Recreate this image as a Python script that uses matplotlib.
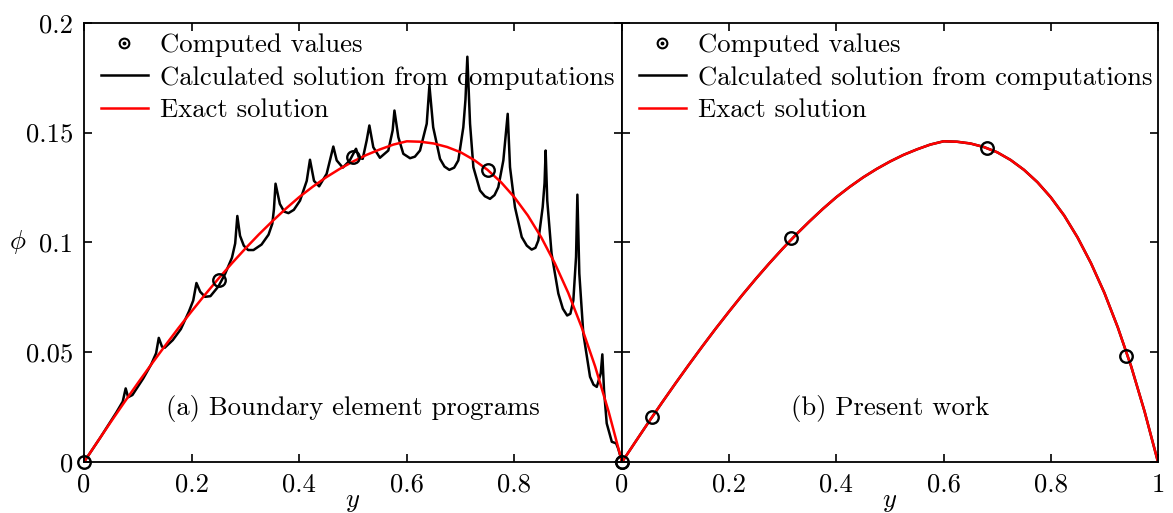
import matplotlib
matplotlib.use("Agg")
import matplotlib.pyplot as plt
from matplotlib.lines import Line2D
from matplotlib.legend_handler import HandlerTuple

plt.rcParams['font.family'] = ['cmr10', 'DejaVu Serif']
plt.rcParams['mathtext.fontset'] = 'cm'
plt.rcParams['axes.formatter.use_mathtext'] = True

FS = 19.2

# exact solution
y_exact = [0, 0.025, 0.05, 0.075, 0.1, 0.125, 0.15, 0.175, 0.2, 0.225, 0.25, 0.275,
           0.3, 0.325, 0.35, 0.375, 0.4, 0.425, 0.45, 0.475, 0.5, 0.525, 0.55, 0.575,
           0.6, 0.625, 0.65, 0.675, 0.7, 0.725, 0.75, 0.775, 0.8, 0.825, 0.85, 0.875,
           0.9, 0.925, 0.95, 0.975, 1]
phi_exact = [0, 0.0092, 0.0183, 0.0272, 0.0359, 0.0444, 0.0527, 0.0608, 0.0686, 0.0762,
             0.0835, 0.0905, 0.0972, 0.1036, 0.1096, 0.1153, 0.1206, 0.1253, 0.1296,
             0.1334, 0.1368, 0.1398, 0.1423, 0.1445, 0.1460, 0.1458, 0.1450, 0.1434,
             0.1410, 0.1375, 0.1330, 0.1274, 0.1205, 0.1122, 0.1022, 0.0905, 0.0770,
             0.0613, 0.0435, 0.0230, 0]

# boundary element programs (spiky curve)
y_bem = [0, 0.03, 0.06, 0.072, 0.0775, 0.082, 0.09, 0.11, 0.125, 0.134, 0.139, 0.145,
         0.15, 0.165, 0.18, 0.195, 0.203, 0.209, 0.216, 0.225, 0.235, 0.25, 0.262,
         0.275, 0.281, 0.285, 0.29, 0.297, 0.305, 0.315, 0.33, 0.343, 0.35, 0.353,
         0.356, 0.364, 0.372, 0.38, 0.39, 0.4015, 0.414, 0.42, 0.4275, 0.437, 0.451,
         0.4634, 0.4697, 0.481, 0.494, 0.5037, 0.5056, 0.511, 0.518, 0.5254, 0.5304,
         0.5377, 0.55, 0.5656, 0.5737, 0.577, 0.5842, 0.5935, 0.606, 0.615, 0.6245,
         0.637, 0.642, 0.649, 0.6617, 0.67, 0.679, 0.688, 0.6957, 0.705, 0.709,
         0.7125, 0.7175, 0.7237, 0.736, 0.745, 0.7546, 0.763, 0.77, 0.7794, 0.7875,
         0.7918, 0.801, 0.8136, 0.823, 0.832, 0.839, 0.8445, 0.8525, 0.856, 0.858,
         0.861, 0.869, 0.8816, 0.89, 0.898, 0.904, 0.9095, 0.9145, 0.917, 0.9206,
         0.928, 0.9405, 0.947, 0.953, 0.9604, 0.9634, 0.9665, 0.9715, 0.981, 0.989,
         0.993, 1]
phi_bem = [0, 0.011, 0.0225, 0.0275, 0.0335, 0.0295, 0.0305, 0.038, 0.0445, 0.0495,
           0.0565, 0.0525, 0.052, 0.0555, 0.0605, 0.0685, 0.0735, 0.0815, 0.0775,
           0.0752, 0.0755, 0.08, 0.0855, 0.093, 0.0995, 0.112, 0.103, 0.0985, 0.0965,
           0.0965, 0.099, 0.1035, 0.1085, 0.115, 0.1267, 0.1175, 0.1140, 0.1133,
           0.1148, 0.119, 0.128, 0.1376, 0.128, 0.1255, 0.1312, 0.1436, 0.1373, 0.134,
           0.1373, 0.1418, 0.1426, 0.1385, 0.138, 0.1464, 0.1532, 0.1433, 0.1385,
           0.1418, 0.151, 0.16, 0.1479, 0.1403, 0.1383, 0.1390, 0.1418, 0.154, 0.1714,
           0.1524, 0.138, 0.1345, 0.133, 0.1340, 0.1373, 0.1524, 0.1650, 0.1845, 0.154,
           0.1342, 0.1236, 0.1210, 0.1198, 0.1215, 0.1251, 0.1373, 0.1585, 0.1342,
           0.116, 0.1024, 0.0985, 0.0967, 0.0975, 0.1009, 0.116, 0.127, 0.1418, 0.119,
           0.0949, 0.0767, 0.0698, 0.0667, 0.0675, 0.0736, 0.0933, 0.1217, 0.0858,
           0.0585, 0.0388, 0.0352, 0.0342, 0.0403, 0.049, 0.0327, 0.0176, 0.0092,
           0.0085, 0.006, 0]

# computed nodal values
y_pts_a = [0, 0.25, 0.5, 0.75, 1]
phi_pts_a = [0, 0.0827, 0.139, 0.133, 0]
y_pts_b = [0, 0.0564, 0.3154, 0.6815, 0.941]
phi_pts_b = [0, 0.0203, 0.1021, 0.1429, 0.0482]

panels = [
    ("(a) Boundary element programs", y_bem, phi_bem, y_pts_a, phi_pts_a),
    ("(b) Present work", y_exact, phi_exact, y_pts_b, phi_pts_b),
]

fig = plt.figure(figsize=(11.73, 5.13), dpi=100)
ax_a = fig.add_axes([0.0716, 0.0994, 0.4587, 0.8564])
ax_b = fig.add_axes([0.5303, 0.0994, 0.4569, 0.8564])

for ax, (title, yl, pl, yp, pp) in zip([ax_a, ax_b], panels):
    ax.plot(yp, pp, 'o', mfc='none', mec='k', ms=9, mew=1.7, clip_on=False, zorder=5)
    ax.plot(yl, pl, '-', color='k', lw=1.8)
    ax.plot(y_exact, phi_exact, '-', color='#ff0000', lw=1.8)
    ax.set_xlim(0, 1)
    ax.set_ylim(0, 0.2)
    ax.set_xticks([0, 0.2, 0.4, 0.6, 0.8, 1])
    ax.set_yticks([0, 0.05, 0.1, 0.15, 0.2])
    ax.tick_params(direction='in', top=True, right=True, length=6, width=1.2,
                   labelsize=FS, pad=8)
    for s in ax.spines.values():
        s.set_linewidth(1.3)
    ax.set_xlabel('$y$', fontsize=FS, labelpad=-5)
    ax.text(0.5, 0.0245, title, ha='center', va='center', fontsize=FS)

    circ = Line2D([], [], marker='o', ls='none', mfc='none', mec='k', ms=7, mew=1.5)
    dot = Line2D([], [], marker='o', ls='none', color='k', ms=1.8)
    blk = Line2D([], [], color='k', lw=1.8)
    red = Line2D([], [], color='#ff0000', lw=1.8)
    ax.legend([(circ, dot), blk, red],
              ['Computed values', 'Calculated solution from computations', 'Exact solution'],
              handler_map={tuple: HandlerTuple(ndivide=1)},
              loc='upper left', bbox_to_anchor=(0.012, 1.0), frameon=False,
              fontsize=FS, handlelength=1.75, labelspacing=0.33, borderaxespad=0,
              handletextpad=0.45)

ax_a.set_xticklabels(['0', '0.2', '0.4', '0.6', '0.8', ''])
ax_a.set_yticklabels(['0', '0.05', '0.1', '0.15', '0.2'])
ax_b.set_xticklabels(['0', '0.2', '0.4', '0.6', '0.8', '1'])
ax_b.set_yticklabels([])
ax_a.set_ylabel(r'$\phi$', fontsize=FS, rotation=0, ha='center', va='center')
ax_a.yaxis.set_label_coords(-0.123, 0.5)

fig.savefig("out.png", dpi=100)
